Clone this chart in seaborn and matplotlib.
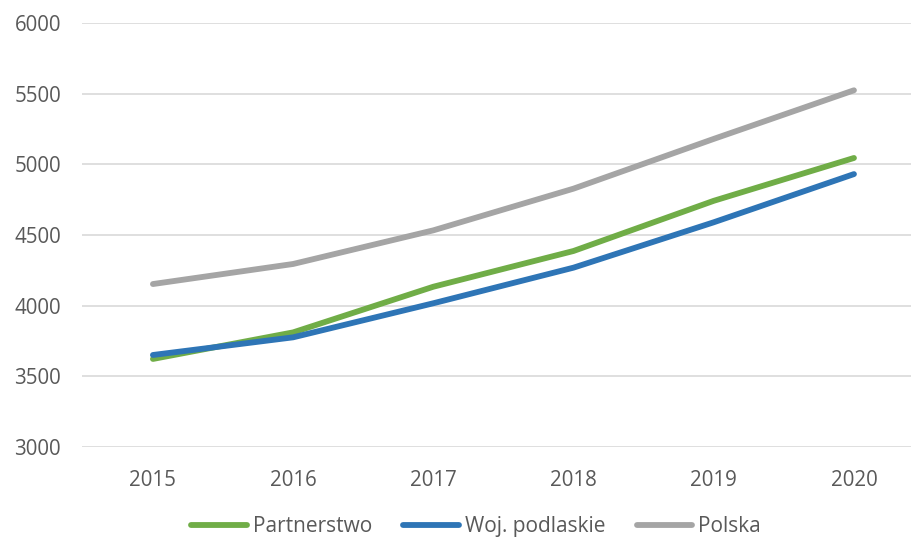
import matplotlib
matplotlib.use("Agg")
import matplotlib.pyplot as plt
import seaborn as sns
import pandas as pd

years = [2015, 2016, 2017, 2018, 2019, 2020]
partnerstwo = [3623, 3811, 4134, 4387, 4742, 5045]
woj_podlaskie = [3651, 3776, 4017, 4269, 4590, 4931]
polska = [4153, 4295, 4533, 4828, 5180, 5524]
series_names = ["Partnerstwo", "Woj. podlaskie", "Polska"]
colors = ["#70AD47", "#2E75B6", "#A5A5A5"]

df = pd.DataFrame({
    "rok": years * 3,
    "wartosc": partnerstwo + woj_podlaskie + polska,
    "seria": sum([[n] * len(years) for n in series_names], []),
})

sns.set_style("white")
plt.rcParams["font.family"] = ["Open Sans", "DejaVu Sans"]

fig = plt.figure(figsize=(9.12, 5.39), dpi=100)
ax = fig.add_axes([0.0899, 0.1707, 0.9101, 0.7866])

sns.lineplot(data=df, x="rok", y="wartosc", hue="seria", hue_order=series_names,
             palette=colors, linewidth=4.2, ax=ax, legend=False,
             solid_capstyle="round")

ax.set_ylim(3000, 6000)
ax.set_yticks(range(3000, 6001, 500))
ax.set_xlim(2014.494, 2020.414)
ax.set_xticks(years)
ax.grid(axis="y", color="#D9D9D9", linewidth=1.2)
ax.set_axisbelow(True)
for s in ax.spines.values():
    s.set_visible(False)
ax.set_xlabel("")
ax.set_ylabel("")
ax.tick_params(axis="both", length=0, labelsize=14.8, labelcolor="#595959")
ax.tick_params(axis="y", pad=15)
ax.tick_params(axis="x", pad=16.5)

handles = [plt.Line2D([0], [0], color=c, linewidth=4.2, solid_capstyle="round") for c in colors]
fig.legend(handles, series_names, loc="lower center", bbox_to_anchor=(0.522, -0.020),
           ncol=3, frameon=False, fontsize=15, handlelength=2.65,
           handletextpad=0.3, columnspacing=1.5, labelcolor="#595959",
           borderpad=0.1)

fig.savefig("out.png", dpi=100)
